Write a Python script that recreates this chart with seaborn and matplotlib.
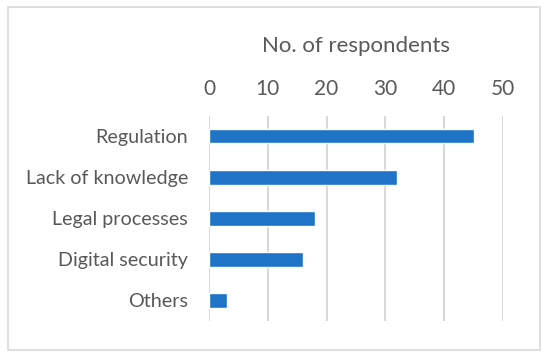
import matplotlib
matplotlib.use("Agg")
import matplotlib.pyplot as plt
import matplotlib.patches as patches
import seaborn as sns
import pandas as pd

categories = ["Regulation", "Lack of knowledge", "Legal processes", "Digital security", "Others"]
values = [45, 32, 18, 16, 3]
xticks = [0, 10, 20, 30, 40, 50]

sns.set_style("white")
plt.rcParams['font.family'] = ['Lato', 'DejaVu Sans']

df = pd.DataFrame({"cat": categories, "val": values})

fig = plt.figure(figsize=(5.5, 3.57), dpi=100)
ax = fig.add_axes([209/550, 1-321/357, (503-209)/550, (321-115.5)/357])

sns.barplot(data=df, x="val", y="cat", orient="h", color="#1F74C8",
            width=0.36, ax=ax, saturation=1)

ax.set_xlim(0, 50)
ax.set_ylim(4.5, -0.5)
ax.set_xticks(xticks)
ax.xaxis.tick_top()
ax.xaxis.set_label_position("top")
ax.set_xlabel("No. of respondents", fontsize=16, color="#595959", labelpad=19)
ax.set_ylabel("")
ax.tick_params(axis="x", length=0, labelsize=15, labelcolor="#595959", pad=12)
ax.tick_params(axis="y", length=0, labelsize=14.2, labelcolor="#595959", pad=15)
ax.grid(axis="x", color="#d9d9d9", linewidth=1.5)
ax.set_axisbelow(True)
for s in ax.spines.values():
    s.set_visible(False)

border = patches.Rectangle((8/550, 1-350/357), (540-8)/550, (350-7)/357,
                           transform=fig.transFigure, fill=False,
                           edgecolor="#d9d9d9", linewidth=1.2)
fig.patches.append(border)

fig.savefig("out.png", dpi=100)
